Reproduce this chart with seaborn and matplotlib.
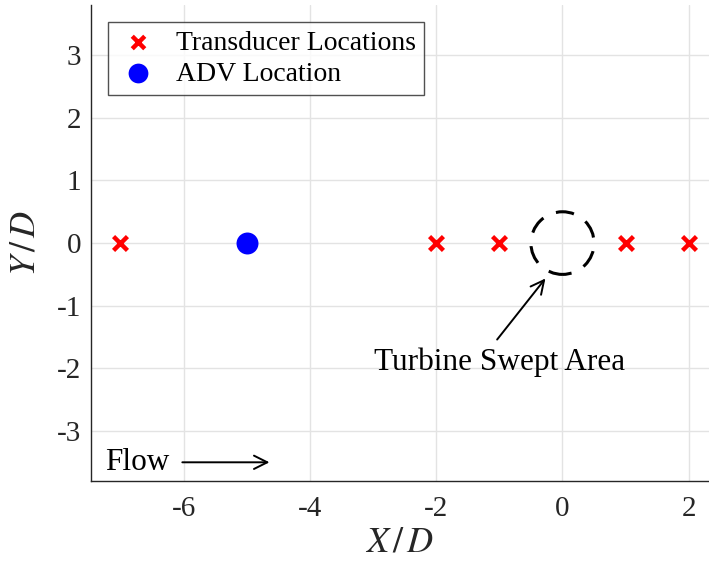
import matplotlib
matplotlib.use("Agg")
import matplotlib.pyplot as plt
import seaborn as sns
import pandas as pd
from matplotlib.patches import Circle

# Data
transducer_x = [-7, -2, -1, 1, 2]
transducer_y = [0, 0, 0, 0, 0]
adv_x = [-5]
adv_y = [0]
turbine_center = (0, 0)
turbine_radius = 0.5
x_ticks = [-6, -4, -2, 0, 2]
y_ticks = [-3, -2, -1, 0, 1, 2, 3]

sns.set_style("white")
plt.rcParams['font.family'] = ['Liberation Serif', 'DejaVu Serif']
plt.rcParams['mathtext.fontset'] = 'stix'
plt.rcParams['axes.unicode_minus'] = False

fig = plt.figure(figsize=(7.09, 5.64), dpi=100)
ax = fig.add_axes([0.128, 0.147, 0.872, 0.844])

tdf = pd.DataFrame({"x": transducer_x, "y": transducer_y})
adf = pd.DataFrame({"x": adv_x, "y": adv_y})

sns.scatterplot(data=tdf, x="x", y="y", ax=ax, marker="x", color="red",
                s=100, linewidth=3.2, label="Transducer Locations", zorder=3)
sns.scatterplot(data=adf, x="x", y="y", ax=ax, marker="o", color="blue",
                s=250, edgecolor="blue", linewidth=0, label="ADV Location", zorder=3)

circ = Circle(turbine_center, turbine_radius, fill=False, edgecolor="black",
              linestyle=(3, (6, 4.5)), linewidth=2.2, zorder=3)
ax.add_patch(circ)

ax.text(-1.0, -1.9, "Turbine Swept Area", ha="center", va="center",
        fontsize=22.5, color="black")
ax.annotate("", xy=(-0.27, -0.565), xytext=(-1.035, -1.54),
            arrowprops=dict(arrowstyle="->", color="black", lw=1.4,
                            shrinkA=0, shrinkB=0, mutation_scale=24))
ax.text(-7.24, -3.5, "Flow", ha="left", va="center", fontsize=22.5, color="black")
ax.annotate("", xy=(-4.64, -3.5), xytext=(-6.02, -3.5),
            arrowprops=dict(arrowstyle="->", color="black", lw=1.4,
                            shrinkA=0, shrinkB=0, mutation_scale=24))

ax.set_xlim(-7.47, 2.32)
ax.set_ylim(-3.8, 3.8)
ax.set_xticks(x_ticks)
ax.set_yticks(y_ticks)
ax.set_xticklabels([str(t) for t in x_ticks])
ax.set_yticklabels([str(t) for t in y_ticks])
ax.grid(True, color="#e3e3e3", linewidth=1)
ax.set_axisbelow(True)
ax.tick_params(axis="both", direction="in", length=5, width=1, labelsize=21,
               colors="#262626", labelcolor="#262626")
ax.tick_params(axis="x", pad=11)
ax.tick_params(axis="y", pad=7)
for s in ["top", "right"]:
    ax.spines[s].set_visible(False)
for s in ["left", "bottom"]:
    ax.spines[s].set_color("#262626")
    ax.spines[s].set_linewidth(1)

ax.set_xlabel("$X\\,/\\,D$", fontsize=26, labelpad=3, color="#262626")
ax.set_ylabel("$Y\\,/\\,D$", fontsize=26, labelpad=10, color="#262626")

leg = ax.legend(loc="upper left", bbox_to_anchor=(0.0275, 0.965), fontsize=20,
                frameon=True, fancybox=False, edgecolor="#262626",
                handlelength=1.6, handletextpad=0.55, borderpad=0.3,
                labelspacing=0.2, borderaxespad=0, markerscale=0.9)
leg.get_frame().set_linewidth(1)
for t in leg.get_texts():
    t.set_color("black")

fig.savefig("out.png", dpi=100)
